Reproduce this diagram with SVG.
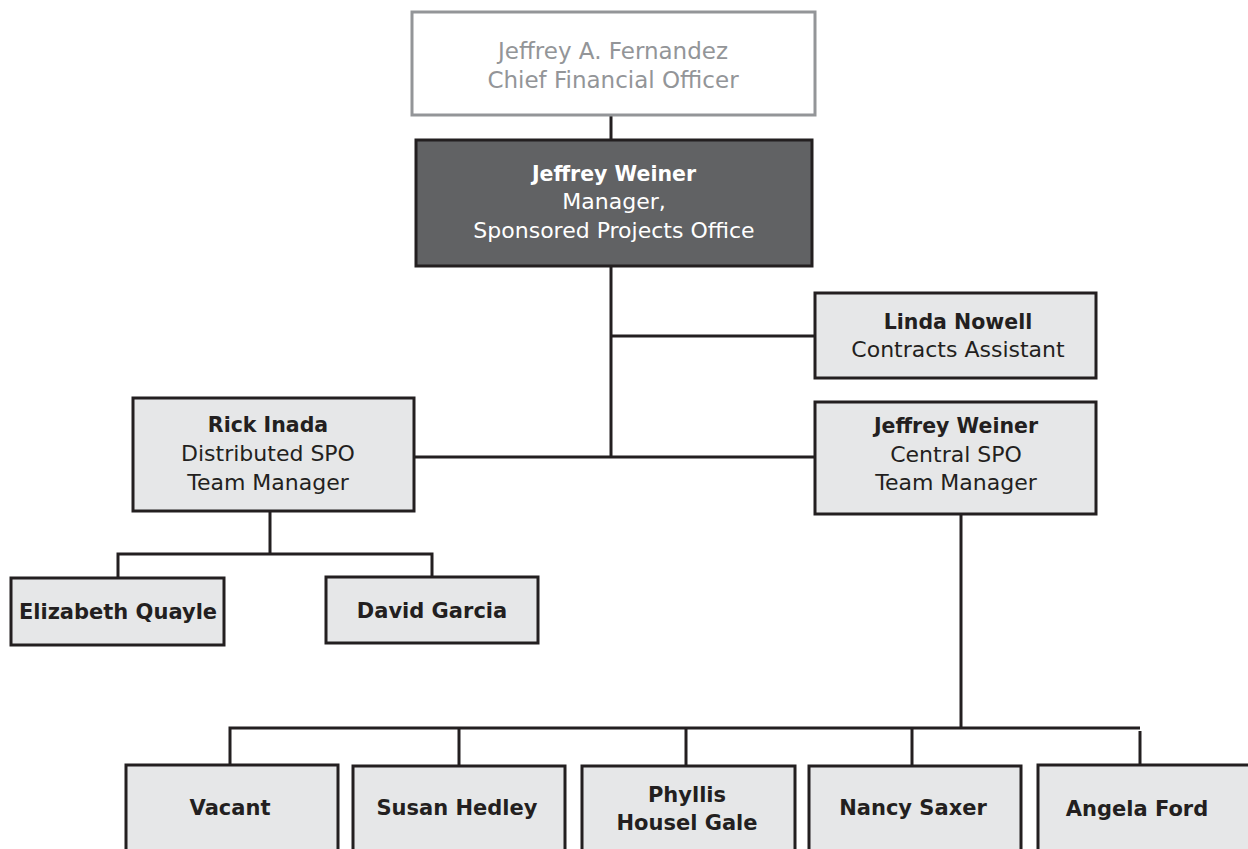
<svg xmlns="http://www.w3.org/2000/svg" width="1248" height="849" viewBox="0 0 1248 849">
  <style>
    text { font-family: "DejaVu Sans", "Liberation Sans", sans-serif; text-anchor: middle; fill: #231f20; }
    .box { fill: #e6e7e8; stroke: #231f20; stroke-width: 3; }
    .ghost { fill: #ffffff; stroke: #939598; stroke-width: 3; }
    .dark { fill: #616264; stroke: #231f20; stroke-width: 3; }
    .name { font-weight: bold; font-size: 20.5px; }
    .leaf { font-weight: bold; font-size: 21px; }
    .role { font-size: 22px; }
    .faint { fill: #939598; font-size: 23px; }
    .light { fill: #ffffff; }
    .wire { fill: none; stroke: #231f20; stroke-width: 3; }
  </style>

  <!-- connectors -->
  <g id="connectors">
    <path class="wire" d="M611 115 V140"/>
    <path class="wire" d="M611 266 V457"/>
    <path class="wire" d="M611 336 H815"/>
    <path class="wire" d="M414 457 H815"/>
    <path class="wire" d="M270 511 V554"/>
    <path class="wire" d="M118 578 V554 H432 V577"/>
    <path class="wire" d="M961 514 V728"/>
    <path class="wire" d="M230 765 V728 H1140"/>
    <path class="wire" d="M459 728 V765"/>
    <path class="wire" d="M686 728 V765"/>
    <path class="wire" d="M912 728 V765"/>
    <path class="wire" d="M1140 731 V765"/>
  </g>

  <g id="cfo">
    <rect class="ghost" x="412" y="12" width="403" height="103"/>
    <text class="faint" x="613" y="59">Jeffrey A. Fernandez</text>
    <text class="faint" x="613" y="88">Chief Financial Officer</text>
  </g>

  <g id="spo-manager">
    <rect class="dark" x="416" y="140" width="396" height="126"/>
    <text class="name light" x="614" y="181">Jeffrey Weiner</text>
    <text class="role light" x="614" y="209">Manager,</text>
    <text class="role light" x="614" y="238">Sponsored Projects Office</text>
  </g>

  <g id="contracts-assistant">
    <rect class="box" x="815" y="293" width="281" height="85"/>
    <text class="name" x="958" y="329">Linda Nowell</text>
    <text class="role" x="958" y="357">Contracts Assistant</text>
  </g>

  <g id="distributed-manager">
    <rect class="box" x="133" y="398" width="281" height="113"/>
    <text class="name" x="268" y="432">Rick Inada</text>
    <text class="role" x="268" y="461">Distributed SPO</text>
    <text class="role" x="268" y="490">Team Manager</text>
  </g>

  <g id="central-manager">
    <rect class="box" x="815" y="402" width="281" height="112"/>
    <text class="name" x="956" y="433">Jeffrey Weiner</text>
    <text class="role" x="956" y="462">Central SPO</text>
    <text class="role" x="956" y="490">Team Manager</text>
  </g>

  <g id="quayle">
    <rect class="box" x="11" y="578" width="213" height="67"/>
    <text class="leaf" x="118" y="619">Elizabeth Quayle</text>
  </g>

  <g id="garcia">
    <rect class="box" x="326" y="577" width="212" height="66"/>
    <text class="leaf" x="432" y="618">David Garcia</text>
  </g>

  <g id="vacant">
    <rect class="box" x="126" y="765" width="212" height="100"/>
    <text class="leaf" x="230" y="815">Vacant</text>
  </g>

  <g id="hedley">
    <rect class="box" x="353" y="766" width="212" height="100"/>
    <text class="leaf" x="457" y="815">Susan Hedley</text>
  </g>

  <g id="gale">
    <rect class="box" x="582" y="766" width="213" height="100"/>
    <text class="leaf" x="687" y="802">Phyllis</text>
    <text class="leaf" x="687" y="830">Housel Gale</text>
  </g>

  <g id="saxer">
    <rect class="box" x="809" y="766" width="212" height="100"/>
    <text class="leaf" x="913" y="815">Nancy Saxer</text>
  </g>

  <g id="ford">
    <rect class="box" x="1038" y="765" width="212" height="100"/>
    <text class="leaf" x="1137" y="816">Angela Ford</text>
  </g>
</svg>
